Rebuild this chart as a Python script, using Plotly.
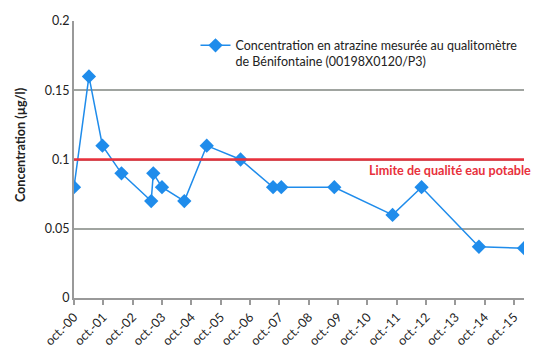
import plotly.graph_objects as go

dates = ["2000-10-01", "2001-04-05", "2001-09-20", "2002-05-15", "2003-05-20",
         "2003-06-15", "2003-10-01", "2004-07-05", "2005-04-10", "2006-06-05",
         "2007-07-15", "2007-10-25", "2009-08-15", "2011-08-10", "2012-08-05",
         "2014-07-20", "2016-02-01"]
values = [0.08, 0.16, 0.11, 0.09, 0.07, 0.09, 0.08, 0.07, 0.11, 0.10,
          0.08, 0.08, 0.08, 0.06, 0.08, 0.037, 0.036]
tick_dates = [f"{y}-10-01" for y in range(2000, 2016)]
tick_labels = [f"oct.-{y % 100:02d}" for y in range(2000, 2016)]
limit = 0.1
series_name = "Concentration en atrazine mesurée au qualitomètre<br>de Bénifontaine (00198X0120/P3)"
limit_label = "Limite de qualité eau potable"
y_title = "Concentration (µg/l)"

FONT = "Lato"
fig = go.Figure()
fig.add_trace(go.Scatter(
    x=dates, y=values, mode="lines+markers", name=series_name,
    line=dict(color="#1f8ceb", width=1.5),
    marker=dict(symbol="diamond", size=11, color="#1f8ceb"),
))
fig.add_shape(type="line", xref="paper", x0=0, x1=1, yref="y", y0=limit, y1=limit,
              line=dict(color="#e8313c", width=2.5), layer="above")
fig.add_annotation(text=f"<b>{limit_label}</b>", xref="paper", x=1.019, xanchor="right",
                   yref="y", y=limit, yanchor="top", yshift=-1, showarrow=False,
                   font=dict(family=FONT, size=12.6, color="#e8313c"))
fig.add_annotation(text=f"<b>{y_title}</b>", xref="paper", x=-0.12, xanchor="center",
                   yref="paper", y=0.552, yanchor="middle", textangle=-90, showarrow=False,
                   font=dict(family=FONT, size=12.6, color="#222222"))
fig.update_layout(
    width=551, height=354,
    margin=dict(l=74, r=27, t=21, b=56),
    paper_bgcolor="white", plot_bgcolor="white",
    font=dict(family=FONT, size=12, color="#222222"),
    showlegend=True,
    legend=dict(x=0.27, y=0.965, xanchor="left", yanchor="top", bgcolor="rgba(0,0,0,0)",
                font=dict(family=FONT, size=12.5, color="#222222"), valign="top",
                itemwidth=30),
    xaxis=dict(range=[dates[0], dates[-1]], tickvals=tick_dates, ticktext=tick_labels,
               tickangle=-45, showgrid=False, showline=True, linecolor="#999999", linewidth=2,
               ticks="outside", ticklen=5, tickcolor="#999999", tickwidth=1.5, automargin=False,
               tickfont=dict(family=FONT, size=12.5, color="#222222"), zeroline=False),
    yaxis=dict(range=[0, 0.2], tickvals=[0, 0.05, 0.1, 0.15, 0.2],
               ticktext=["0", "0.05", "0.1", "0.15", "0.2"], automargin=False,
               showgrid=True, gridcolor="#a0a4a0", gridwidth=2,
               showline=True, linecolor="#999999", linewidth=2, zeroline=False,
               ticks="", tickfont=dict(family=FONT, size=12.5, color="#222222")),
)
fig.write_html("out.html")
